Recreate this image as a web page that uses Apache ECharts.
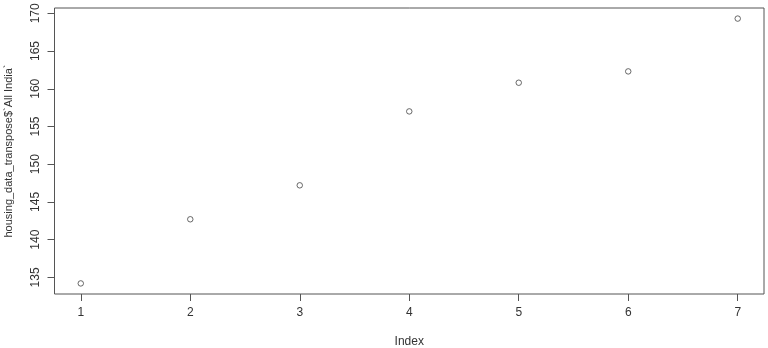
<!DOCTYPE html>
<html>
<head>
<meta charset="utf-8">
<script src="https://cdn.jsdelivr.net/npm/echarts@6/dist/echarts.min.js"></script>
<style>
html,body{margin:0;padding:0;background:#fff;}
#c{width:768px;height:348px;}
</style>
</head>
<body>
<div id="c"></div>
<script>
const indexValues = [1, 2, 3, 4, 5, 6, 7];
const allIndia = [134.2, 142.7, 147.2, 157.0, 160.8, 162.3, 169.3];
const xTicks = [1, 2, 3, 4, 5, 6, 7];
const yTicks = [135, 140, 145, 150, 155, 160, 165, 170];

const xMinD = Math.min(...indexValues), xMaxD = Math.max(...indexValues);
const yMinD = Math.min(...allIndia), yMaxD = Math.max(...allIndia);
const xPad = (xMaxD - xMinD) * 0.04, yPad = (yMaxD - yMinD) * 0.04;

const axisColor = '#555';
const textColor = '#333';
const font = 'Liberation Sans, Arial, sans-serif';

const chart = echarts.init(document.getElementById('c'), null, {renderer: 'canvas'});
chart.setOption({
  animation: false,
  backgroundColor: '#fff',
  grid: {left: 54.5, right: 4, top: 8, bottom: 54, containLabel: false, outerBoundsMode: 'none',
         show: true, borderColor: axisColor, borderWidth: 1, backgroundColor: 'transparent'},
  xAxis: {
    type: 'value',
    min: xMinD - xPad, max: xMaxD + xPad,
    axisLine: {show: false, onZero: false},
    splitLine: {show: false},
    axisTick: {show: true, inside: false, length: 7, lineStyle: {color: axisColor}, customValues: xTicks},
    axisLabel: {customValues: xTicks, color: textColor, fontSize: 12, fontFamily: font, margin: 13},
    name: 'Index', nameLocation: 'middle', nameGap: 42,
    nameTextStyle: {color: textColor, fontSize: 12, fontFamily: font}
  },
  yAxis: {
    type: 'value',
    min: yMinD - yPad, max: yMaxD + yPad,
    axisLine: {show: false, onZero: false},
    splitLine: {show: false},
    axisTick: {show: true, inside: false, length: 7, lineStyle: {color: axisColor}, customValues: yTicks},
    axisLabel: {customValues: yTicks, color: textColor, fontSize: 12, fontFamily: font, rotate: 90, margin: 13},
    name: 'housing_data_transpose$`All India`', nameLocation: 'middle', nameGap: 40, nameRotate: 90,
    nameTextStyle: {color: textColor, fontSize: 11, fontFamily: font}
  },
  series: [{
    type: 'scatter',
    data: indexValues.map((x, i) => [x, allIndia[i]]),
    symbol: 'circle', symbolSize: 5.5,
    itemStyle: {color: 'transparent', borderColor: '#444', borderWidth: 1},
    emphasis: {disabled: true}
  }]
});
</script>
</body>
</html>
